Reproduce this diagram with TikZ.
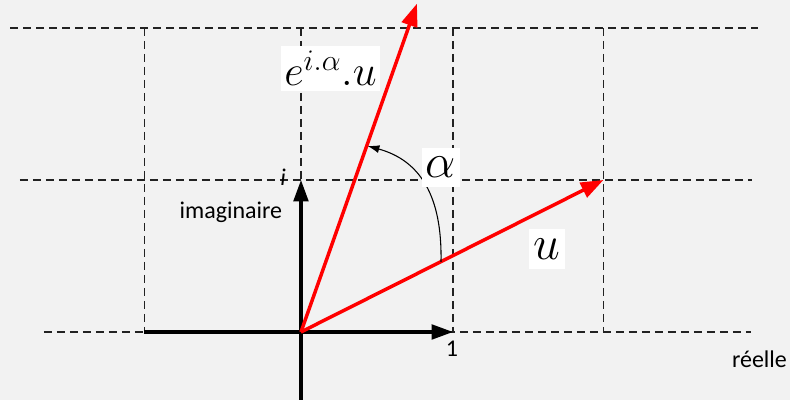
\RequirePackage{fix-cm}
\documentclass[tikz,border=0pt]{standalone}
\usepackage{fontspec}
\setmainfont{Carlito}
\usetikzlibrary{arrows.meta}
\definecolor{fond}{HTML}{F2F2F2}
\definecolor{trait}{HTML}{222222}

\begin{document}
\begin{tikzpicture}[x=114pt,y=114pt,
  grille/.style={draw=trait,line width=1pt,dash pattern=on 6pt off 3.75pt},
  axe/.style={line width=2.3pt,-{Triangle[length=16pt,width=11pt]}},
  vect/.style={red,line width=2.6pt,-{Triangle[length=17pt,width=12pt]}},
  boite/.style={fill=white,inner sep=2pt,font=\fontsize{36}{38}\selectfont},
  lbl/.style={inner sep=0pt,font=\fontsize{18}{20}\selectfont}]
  \fill[fond] (-1.980,-0.447) rectangle (3.217,2.184);
  \useasboundingbox (-1.980,-0.447) rectangle (3.217,2.184);
  % grille
  \draw[grille] (-1.914,2) -- (3.007,2);
  \draw[grille] (-1.849,1) -- (2.967,1);
  \draw[grille] (-1.691,0) -- (2.961,0);
  \draw[grille] (-1.03,2) -- (-1.03,0);
  \draw[grille] (0,2) -- (0,1);
  \draw[grille] (1,2) -- (1,0);
  \draw[grille] (1.99,2) -- (1.99,0);
  % axes
  \coordinate (O) at (0,0);
  \coordinate (xg) at (-1.03,0);
  \coordinate (un) at (1,0);
  \coordinate (yb) at (0,-0.447);
  \coordinate (im) at (0,1);
  \draw[axe] (xg) -- (un);
  \draw[axe] (yb) -- (im);
  % vecteurs
  \coordinate (U) at (1.99,1);
  \coordinate (V) at (0.763,2.16);
  \draw[vect] (O) -- (U);
  \draw[vect] (O) -- (V);
  % angle
  \coordinate (a1) at (0.921,0.4605);
  \coordinate (a2) at (0.437,1.224);
  \draw[line width=0.8pt,-{Latex[length=9pt,width=6pt]}] (a1) .. controls (0.93,0.9) and (0.78,1.13) .. (a2);
  % textes
  \node[boite,font=\fontsize{32}{34}\selectfont,minimum width=74pt,minimum height=34pt] (lv) at (0.194,1.734) {$e^{i.\alpha}.u$};
  \node[boite,minimum size=29pt] (la) at (0.921,1.082) {$\alpha$};
  \node[boite,minimum width=27pt,minimum height=30pt] (lu) at (1.618,0.546) {$u$};
  \node[lbl,font=\fontsize{18}{20}\selectfont\itshape] (li) at (-0.118,1.02) {i};
  \node[lbl] (lim) at (-0.461,0.789) {imaginaire};
  \node[lbl] (l1) at (0.993,-0.112) {1};
  \node[lbl] (lre) at (3.016,-0.178) {réelle};
\end{tikzpicture}
\end{document}
